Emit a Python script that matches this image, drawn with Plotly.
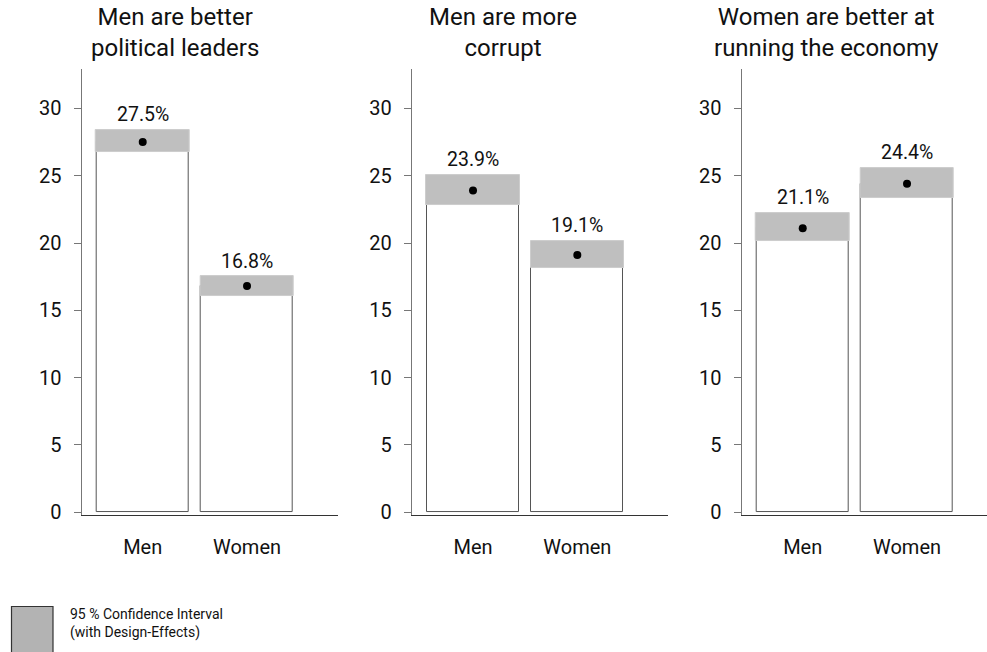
import plotly.graph_objects as go

categories = ["Men", "Women"]
titles = ["Men are better<br>political leaders",
          "Men are more<br>corrupt",
          "Women are better at<br>running the economy"]
means = [[27.5, 16.8], [23.9, 19.1], [21.1, 24.4]]
ci_lo = [[26.75, 16.07], [22.84, 18.17], [20.12, 23.35]]
ci_hi = [[28.39, 17.51], [25.04, 20.15], [22.23, 25.58]]
y_ticks = [0, 5, 10, 15, 20, 25, 30]
legend_text = "95 % Confidence Interval<br>(with Design-Effects)"

W, H = 987, 652
FONT = "Roboto"
xpos = [0, 1]

# panel domains in px
dom_px = [(81.7, 338.0), (412.0, 668.3), (741.7, 987.0)]
title_cx = [175, 503, 826.5]
px_per_unit = 104.3
y_top_px, y_bot_px = 70.0, 522.0
y_range = [-0.2, 32.93]

fig = go.Figure()
for i in range(3):
    xa = "x" if i == 0 else f"x{i+1}"
    ya = "y" if i == 0 else f"y{i+1}"
    # bars
    fig.add_trace(go.Bar(x=xpos, y=means[i], base=0, width=0.88,
                         marker=dict(color="white", line=dict(color="#555555", width=1)),
                         xaxis=xa, yaxis=ya, showlegend=False, hoverinfo="skip"))
    # CI boxes
    fig.add_trace(go.Bar(x=xpos, y=[h - l for h, l in zip(ci_hi[i], ci_lo[i])], base=ci_lo[i],
                         width=0.895,
                         marker=dict(color="#bfbfbf", line=dict(color="#cdcdcd", width=1)),
                         xaxis=xa, yaxis=ya, showlegend=False, hoverinfo="skip"))
    # points
    fig.add_trace(go.Scatter(x=xpos, y=means[i], mode="markers",
                             marker=dict(color="black", size=8),
                             xaxis=xa, yaxis=ya, showlegend=False, hoverinfo="skip"))
    # value labels
    for j in range(2):
        fig.add_annotation(x=xpos[j], y=ci_hi[i][j], xref=xa, yref=ya,
                           text=f"{means[i][j]:.1f}%", showarrow=False,
                           yanchor="bottom", yshift=2,
                           font=dict(family=FONT, size=19.5, color="#111111"))
    # titles
    fig.add_annotation(x=title_cx[i] / W, y=1 - 33 / H, xref="paper", yref="paper",
                       text=titles[i], showarrow=False, xanchor="center", yanchor="middle",
                       font=dict(family=FONT, size=24, color="#111111"))

    d0, d1 = dom_px[i]
    xr = [-0.585, -0.585 + (d1 - d0) / px_per_unit]
    xkey = "xaxis" if i == 0 else f"xaxis{i+1}"
    ykey = "yaxis" if i == 0 else f"yaxis{i+1}"
    fig.update_layout(**{
        xkey: dict(domain=[d0 / W, min(d1 / W, 1.0)], range=xr, anchor=ya,
                   tickvals=xpos, ticktext=categories, showgrid=False, zeroline=False,
                   showline=True, linecolor="#333333", linewidth=1, ticks="",
                   ticklabelstandoff=14,
                   tickfont=dict(family=FONT, size=20, color="#111111")),
        ykey: dict(domain=[1 - y_bot_px / H, 1 - y_top_px / H], range=y_range, anchor=xa,
                   tickvals=y_ticks, showgrid=False, zeroline=False,
                   showline=True, linecolor="#777777", linewidth=1.3,
                   ticks="outside", ticklen=7, tickcolor="#777777", tickwidth=1,
                   ticklabelstandoff=8,
                   tickfont=dict(family=FONT, size=20, color="#111111")),
    })

# legend key
fig.add_shape(type="rect", xref="paper", yref="paper",
              x0=11.5 / W, x1=53 / W, y0=1 - 665 / H, y1=1 - 615 / H,
              fillcolor="#b3b3b3", line=dict(color="#333333", width=1.2))
fig.add_annotation(x=68 / W, y=1 - 632 / H, xref="paper", yref="paper",
                   text=legend_text, showarrow=False, xanchor="left", yanchor="middle",
                   align="left",
                   font=dict(family=FONT, size=14, color="#111111"))

fig.update_layout(width=W, height=H, margin=dict(l=0, r=0, t=0, b=0),
                  paper_bgcolor="white", plot_bgcolor="white",
                  barmode="overlay", bargap=0, showlegend=False,
                  font=dict(family=FONT))

fig.write_html("out.html")
